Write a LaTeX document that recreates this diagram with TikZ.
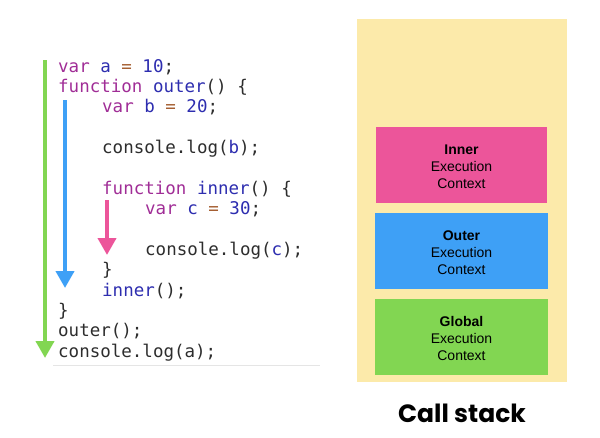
\documentclass[tikz,border=0pt]{standalone}
\usepackage{fontspec}
\setmainfont{Liberation Sans}
\newfontfamily\codefont{DejaVu Sans Mono}
\newfontfamily\csfont{Poppins}
\usetikzlibrary{arrows.meta}
\definecolor{ckw}{RGB}{160,45,150}
\definecolor{cid}{RGB}{45,45,175}
\definecolor{cop}{RGB}{165,95,50}
\definecolor{cgray}{RGB}{45,45,45}
\definecolor{cyel}{RGB}{252,234,170}
\definecolor{cpink}{RGB}{236,85,154}
\definecolor{cblue}{RGB}{62,160,246}
\definecolor{cgreen}{RGB}{130,214,82}
\newcommand\KW[1]{\textcolor{ckw}{#1}}
\newcommand\ID[1]{\textcolor{cid}{#1}}
\newcommand\OP[1]{\textcolor{cop}{#1}}
\begin{document}
\begin{tikzpicture}[x=1pt,y=-1pt,
  code/.style={anchor=base west, inner sep=0pt, font=\codefont\fontsize{17.5}{20}\selectfont, text=cgray},
  flow/.style={line width=4pt, -{Triangle[width=18pt,length=17pt]}},
  ctx/.style={minimum width=173pt, minimum height=76pt, inner sep=0pt, align=center,
    font=\fontsize{14}{17}\selectfont, text=black}]
\useasboundingbox (0,0) rectangle (600,437);
% code lines
\def\xa{58}\def\xb{102}\def\xc{145}
\node[code] (l1) at (\xa,72) {\KW{var} \ID{a} \OP{=} \ID{10};};
\node[code] (l2) at (\xa,92.4) {\KW{function} \ID{outer}() \{};
\node[code] (l3) at (\xb,112.7) {\KW{var} \ID{b} \OP{=} \ID{20};};
\node[code] (l5) at (\xb,153.4) {console.log(\ID{b});};
\node[code] (l7) at (\xb,194.2) {\KW{function} \ID{inner}() \{};
\node[code] (l8) at (\xc,214.5) {\KW{var} \ID{c} \OP{=} \ID{30};};
\node[code] (l10) at (\xc,255.2) {console.log(\ID{c});};
\node[code] (l11) at (\xb,275.6) {\}};
\node[code] (l12) at (\xb,296) {\ID{inner}();};
\node[code] (l13) at (\xa,316.3) {\}};
\node[code] (l14) at (\xa,336.6) {outer();};
\node[code] (l15) at (\xa,357) {console.log(a);};
% separator
\coordinate (s1) at (53,365);
\coordinate (s2) at (320,365);
\draw[gray!20, line width=1pt] (s1) -- (s2);
% arrows
\coordinate (g1) at (45,60);  \coordinate (g2) at (45,358);
\coordinate (b1) at (65,100); \coordinate (b2) at (65,288);
\coordinate (p1) at (107,200); \coordinate (p2) at (107,255);
\draw[flow, cgreen] (g1) -- (g2);
\draw[flow, cblue] (b1) -- (b2);
\draw[flow, cpink] (p1) -- (p2);
% call stack
\node[fill=cyel, minimum width=210pt, minimum height=363pt, inner sep=0pt] (stack) at (462,200.5) {};
\node[ctx, fill=cpink, minimum width=171pt] (inner) at (461.5,165) {};
\node[ctx, fill=cblue] (outer) at (461.5,251) {};
\node[ctx, fill=cgreen] (global) at (461.5,336.5) {};
\node[ctx, minimum width=0pt, minimum height=0pt] (tinner) at ([yshift=-2pt]inner.center) {\textbf{Inner}\\Execution\\Context};
\node[ctx, minimum width=0pt, minimum height=0pt] (touter) at ([yshift=-2pt]outer.center) {\textbf{Outer}\\Execution\\Context};
\node[ctx, minimum width=0pt, minimum height=0pt] (tglobal) at ([yshift=-2pt]global.center) {\textbf{Global}\\Execution\\Context};
\node[font=\csfont\bfseries\fontsize{25}{30}\selectfont, inner sep=0pt] (cap) at (462,413) {Call stack};
\end{tikzpicture}
\end{document}
